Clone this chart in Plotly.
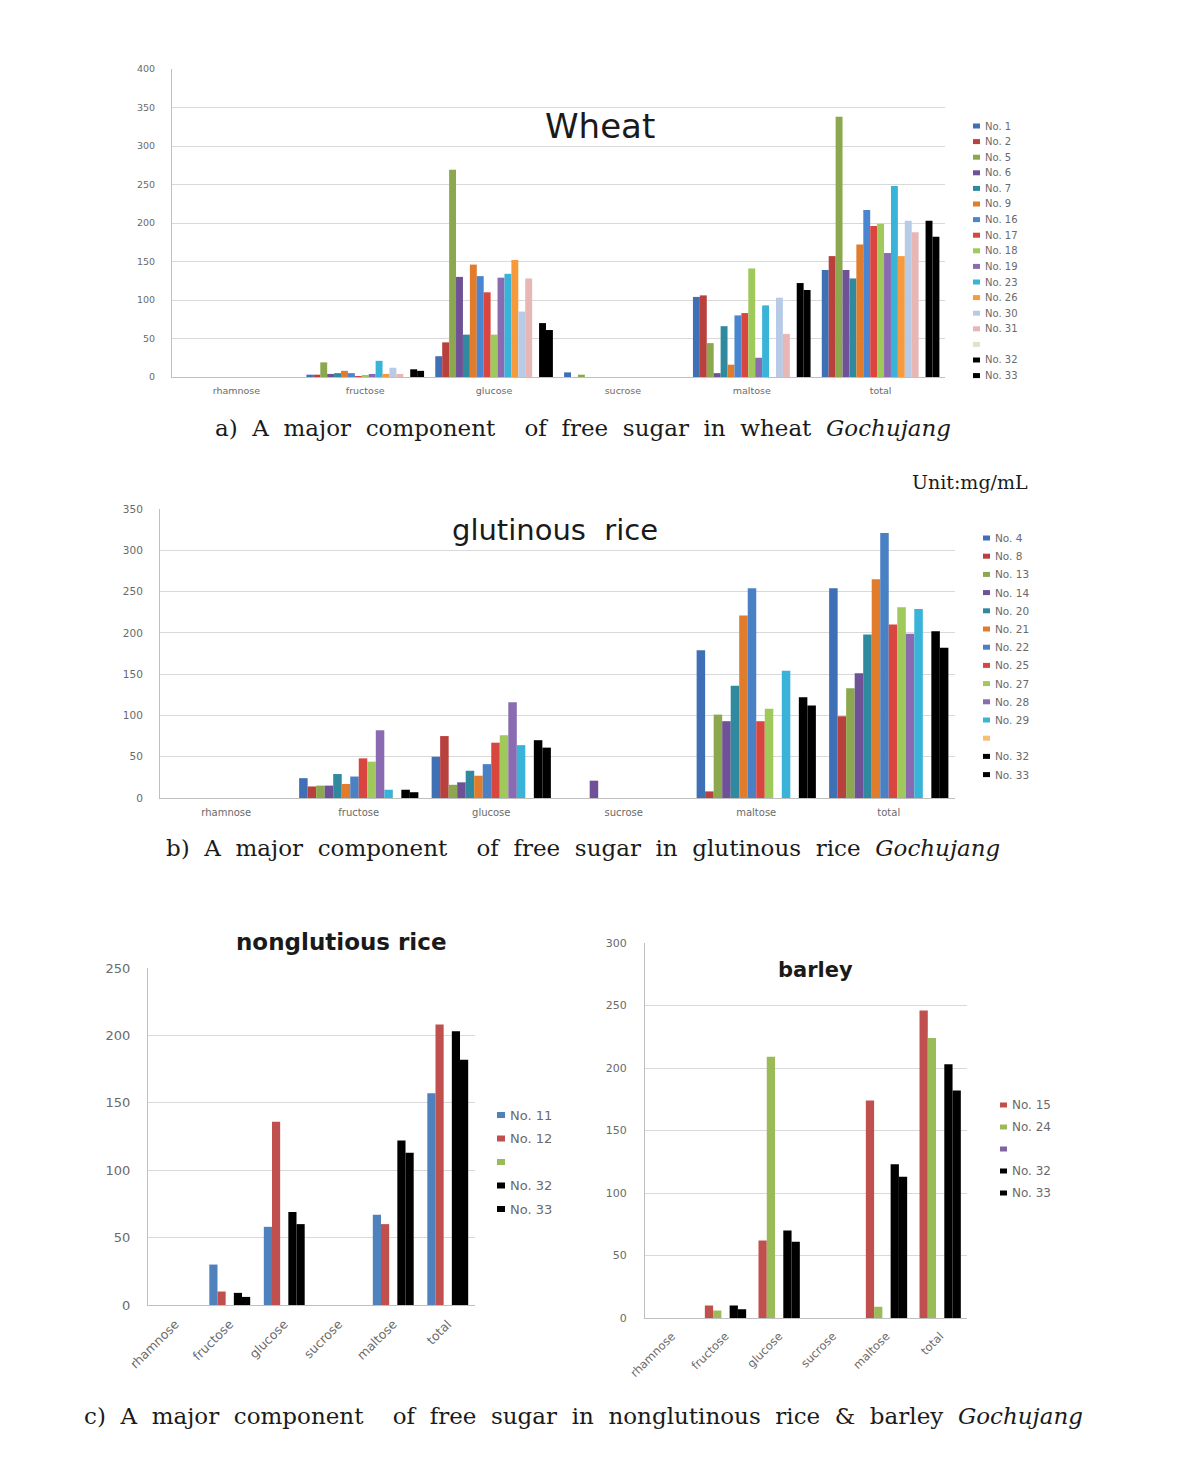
import plotly.graph_objects as go

# page offset of the plot div (browser body margin) and figure size
OFF = 8
W, H = 1179 - 2 * OFF, 1466 - 2 * OFF


def px(x):
    return (x - OFF) / W


def py(y):
    return 1 - (y - OFF) / H


categories = ["rhamnose", "fructose", "glucose", "sucrose", "maltose", "total"]

# ---------------- Wheat ----------------
wheat_series = ["No. 1", "No. 2", "No. 5", "No. 6", "No. 7", "No. 9", "No. 16", "No. 17",
                "No. 18", "No. 19", "No. 23", "No. 26", "No. 30", "No. 31", "", "No. 32", "No. 33"]
wheat_colors = ["#3F6FB5", "#B8413E", "#8CA84F", "#6E5196", "#2F8AA0", "#E07C2C", "#4A85D1",
                "#D9463F", "#9FC95A", "#8A6AB0", "#3AB3D8", "#F79A3B", "#B7CAE6", "#E8B6B5",
                "#DCE6C6", "#000000", "#000000"]
wheat_values = [
    [0, 3, 27, 6, 104, 139],
    [0, 3, 45, 0, 106, 157],
    [0, 19, 269, 3, 44, 338],
    [0, 4, 130, 0, 5, 139],
    [0, 5, 55, 0, 66, 128],
    [0, 8, 146, 0, 16, 172],
    [0, 5, 131, 0, 80, 217],
    [0, 1, 110, 0, 83, 196],
    [0, 2, 55, 0, 141, 199],
    [0, 4, 129, 0, 25, 161],
    [0, 21, 134, 0, 93, 248],
    [0, 4, 152, 0, 0, 157],
    [0, 12, 85, 0, 103, 203],
    [0, 4, 128, 0, 56, 188],
    [0, 0, 0, 0, 0, 0],
    [0, 10, 70, 0, 122, 203],
    [0, 8, 61, 0, 113, 182],
]

# ---------------- Glutinous rice ----------------
glut_series = ["No. 4", "No. 8", "No. 13", "No. 14", "No. 20", "No. 21", "No. 22", "No. 25",
               "No. 27", "No. 28", "No. 29", "", "No. 32", "No. 33"]
glut_colors = ["#3F6FB5", "#B8413E", "#8CA84F", "#6E5196", "#2F8AA0", "#E07C2C", "#4A80C4",
               "#D9463F", "#9FC95A", "#8A6AB0", "#3AB3D8", "#F8BF6E", "#000000", "#000000"]
glut_values = [
    [0, 24, 50, 0, 179, 254],
    [0, 14, 75, 0, 8, 99],
    [0, 15, 16, 0, 101, 133],
    [0, 15, 19, 21, 93, 151],
    [0, 29, 33, 0, 136, 198],
    [0, 17, 27, 0, 221, 265],
    [0, 26, 41, 0, 254, 321],
    [0, 48, 67, 0, 93, 210],
    [0, 44, 76, 0, 108, 231],
    [0, 82, 116, 0, 0, 199],
    [0, 10, 64, 0, 154, 229],
    [0, 0, 0, 0, 0, 0],
    [0, 10, 70, 0, 122, 202],
    [0, 7, 61, 0, 112, 182],
]

# ---------------- Nonglutinous rice ----------------
nong_series = ["No. 11", "No. 12", "", "No. 32", "No. 33"]
nong_colors = ["#4F81BD", "#C0504D", "#9BBB59", "#000000", "#000000"]
nong_values = [
    [0, 30, 58, 0, 67, 157],
    [0, 10, 136, 0, 60, 208],
    [0, 0, 0, 0, 0, 0],
    [0, 9, 69, 0, 122, 203],
    [0, 6, 60, 0, 113, 182],
]

# ---------------- Barley ----------------
barley_series = ["No. 15", "No. 24", "", "No. 32", "No. 33"]
barley_colors = ["#C0504D", "#9BBB59", "#8064A2", "#000000", "#000000"]
barley_values = [
    [0, 10, 62, 0, 174, 246],
    [0, 6, 209, 0, 9, 224],
    [0, 0, 0, 0, 0, 0],
    [0, 10, 70, 0, 123, 203],
    [0, 7, 61, 0, 113, 182],
]

panels = [
    dict(series=wheat_series, colors=wheat_colors, values=wheat_values, ax="",
         dom=(172, 945, 69, 377), yrange=400, gap=0.087, tickfs=9.5, xfs=9.5, angle=0,
         xstand=5, ystand=14,
         title="Wheat", tx=600, ty=126, tfs=34, tbold=False,
         leg=(973, 126, 15.6, 10, 7)),
    dict(series=glut_series, colors=glut_colors, values=glut_values, ax="2",
         dom=(160, 955, 509, 798), yrange=350, gap=0.10, tickfs=10.5, xfs=10, angle=0,
         xstand=5, ystand=14,
         title="glutinous  rice", tx=555, ty=530, tfs=29, tbold=False,
         leg=(983, 538, 18.2, 10.5, 7)),
    dict(series=nong_series, colors=nong_colors, values=nong_values, ax="3",
         dom=(148, 475, 968, 1305), yrange=250, gap=0.25, tickfs=13, xfs=12.5, angle=-45,
         xstand=6, ystand=14,
         title="nonglutious rice", tx=341, ty=942, tfs=23, tbold=True,
         leg=(497, 1115, 23.5, 13, 8)),
    dict(series=barley_series, colors=barley_colors, values=barley_values, ax="4",
         dom=(645, 967, 943, 1318), yrange=300, gap=0.23, tickfs=11, xfs=11.5, angle=-45,
         xstand=6, ystand=15,
         title="barley", tx=815, ty=970, tfs=21, tbold=True,
         leg=(1000, 1105, 22, 12, 7)),
]

fig = go.Figure()
shapes = []
annotations = []
layout = {}
FONT = "DejaVu Sans"

for p in panels:
    n = len(p["series"])
    span = 1 - p["gap"]
    w = span / n
    xa = "x" + p["ax"]
    ya = "y" + p["ax"]
    for i, (name, col, vals) in enumerate(zip(p["series"], p["colors"], p["values"])):
        fig.add_trace(go.Bar(
            x=categories, y=vals, name=name, xaxis=xa, yaxis=ya,
            marker=dict(color=col, line=dict(width=0)),
            width=w, offset=-span / 2 + i * w, showlegend=False,
        ))
    x0, x1, y0, y1 = p["dom"]
    layout["xaxis" + p["ax"]] = dict(
        domain=[px(x0), px(x1)], anchor=ya, type="category", automargin=False,
        range=[-0.5, 5.5], showline=True, linecolor="#BFBFBF", linewidth=1,
        showgrid=False, ticks="", tickangle=p["angle"],
        tickfont=dict(family=FONT, size=p["xfs"], color="#6a6a6a"),
        ticklabelstandoff=p["xstand"],
    )
    layout["yaxis" + p["ax"]] = dict(
        domain=[py(y1), py(y0)], anchor=xa, range=[0, p["yrange"]], dtick=50,
        automargin=False,
        showline=True, linecolor="#BFBFBF", linewidth=1,
        showgrid=True, gridcolor="#D9D9D9", gridwidth=1, zeroline=False, ticks="",
        tickfont=dict(family=FONT, size=p["tickfs"], color="#6a6a6a"),
        ticklabelstandoff=p["ystand"],
    )
    t = "<b>%s</b>" % p["title"] if p["tbold"] else p["title"]
    annotations.append(dict(
        text=t, x=px(p["tx"]), y=py(p["ty"]), xref="paper", yref="paper",
        xanchor="center", yanchor="middle", showarrow=False,
        font=dict(family=FONT, size=p["tfs"], color="#1a1a1a"),
    ))
    lx, ly, step, lfs, sw = p["leg"]
    for i, (name, col) in enumerate(zip(p["series"], p["colors"])):
        yy = ly + i * step
        shapes.append(dict(
            type="rect", xref="paper", yref="paper",
            x0=px(lx), x1=px(lx + sw), y0=py(yy + sw / 2 - 1), y1=py(yy - sw / 2 + 1),
            fillcolor=col, line=dict(width=0),
        ))
        if name:
            annotations.append(dict(
                text=name, x=px(lx + sw + 3), y=py(yy), xref="paper", yref="paper",
                xanchor="left", yanchor="middle", showarrow=False,
                font=dict(family=FONT, size=lfs, color="#6a6a6a"),
            ))

cap_font = dict(family="DejaVu Serif", size=23, color="#1a1a1a")
captions = [
    ("a)&nbsp; A&nbsp; major&nbsp; component&nbsp;&nbsp;&nbsp; of&nbsp; free&nbsp; sugar&nbsp; in&nbsp; wheat&nbsp; <i>Gochujang</i>", 583, 428),
    ("b)&nbsp; A&nbsp; major&nbsp; component&nbsp;&nbsp;&nbsp; of&nbsp; free&nbsp; sugar&nbsp; in&nbsp; glutinous&nbsp; rice&nbsp; <i>Gochujang</i>", 583, 848),
    ("c)&nbsp; A&nbsp; major&nbsp; component&nbsp;&nbsp;&nbsp; of&nbsp; free&nbsp; sugar&nbsp; in&nbsp; nonglutinous&nbsp; rice&nbsp; &amp;&nbsp; barley&nbsp; <i>Gochujang</i>", 583, 1416),
]
for txt, cx, cy in captions:
    annotations.append(dict(
        text=txt, x=px(cx), y=py(cy), xref="paper", yref="paper",
        xanchor="center", yanchor="middle", showarrow=False, font=cap_font,
    ))
annotations.append(dict(
    text="Unit:mg/mL", x=px(1030), y=py(482), xref="paper", yref="paper",
    xanchor="right", yanchor="middle", showarrow=False,
    font=dict(family="DejaVu Serif", size=19, color="#1a1a1a"),
))

fig.update_layout(
    width=W, height=H, margin=dict(l=0, r=0, t=0, b=0, autoexpand=False),
    paper_bgcolor="white", plot_bgcolor="white",
    barmode="overlay", showlegend=False,
    shapes=shapes, annotations=annotations, **layout,
)

fig.write_html("out.html")
